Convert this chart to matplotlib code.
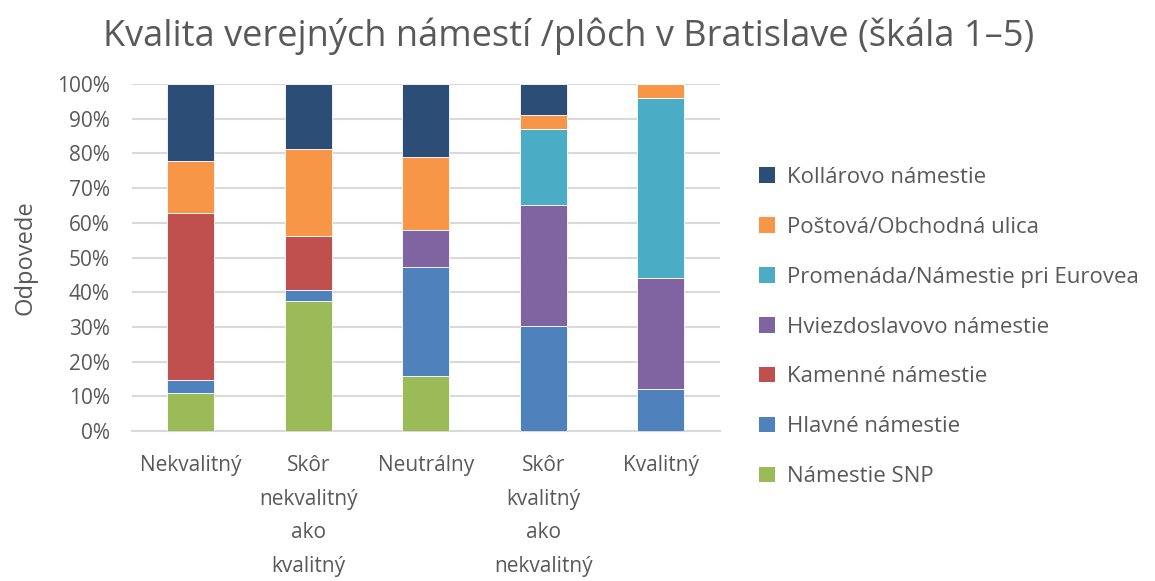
import matplotlib
matplotlib.use("Agg")
import matplotlib.pyplot as plt
import numpy as np
from matplotlib.patches import Patch
from matplotlib.ticker import PercentFormatter

categories = ["Nekvalitný", "Skôr\nnekvalitný\nako\nkvalitný", "Neutrálny",
              "Skôr\nkvalitný\nako\nnekvalitný", "Kvalitný"]

series_names = ["Námestie SNP", "Hlavné námestie", "Kamenné námestie",
                "Hviezdoslavovo námestie", "Promenáda/Námestie pri Eurovea",
                "Poštová/Obchodná ulica", "Kollárovo námestie"]

namestie_snp = [11.1, 37.5, 15.8, 0.0, 0.0]
hlavne = [3.7, 3.1, 31.6, 30.4, 12.0]
kamenne = [48.1, 15.6, 0.0, 0.0, 0.0]
hviezdoslavovo = [0.0, 0.0, 10.5, 34.8, 32.0]
promenada = [0.0, 0.0, 0.0, 21.7, 52.0]
postova = [14.8, 25.0, 21.1, 4.3, 4.0]
kollarovo = [22.2, 18.8, 21.1, 8.7, 0.0]

colors = ["#9bbb59", "#4f81bd", "#c0504d", "#8064a2", "#4bacc6", "#f79646", "#2c4d75"]

values = [namestie_snp, hlavne, kamenne, hviezdoslavovo, promenada, postova, kollarovo]

plt.rcParams['font.family'] = ['Open Sans', 'DejaVu Sans']
txt = "#595959"

fig = plt.figure(figsize=(11.55, 5.81), dpi=100)
ax = fig.add_axes([0.1143, 0.258, 0.623 - 0.1143, 0.8554 - 0.258])

x = np.arange(len(categories))
bottom = np.zeros(len(categories))
for name, vals, c in zip(series_names, values, colors):
    v = np.array(vals)
    ax.bar(x, v, 0.4, bottom=bottom, color=c, edgecolor="white", linewidth=0.6,
           label=name, zorder=3)
    bottom += v

ax.set_ylim(0, 100)
ax.set_xlim(-0.5, len(categories) - 0.5)
ax.set_yticks(np.arange(0, 101, 10))
ax.yaxis.set_major_formatter(PercentFormatter(decimals=0))
ax.grid(axis="y", color="#d9d9d9", linewidth=1.5, zorder=0)
for s in ["top", "right", "left"]:
    ax.spines[s].set_visible(False)
ax.spines["bottom"].set_color("#d9d9d9")
ax.spines["bottom"].set_linewidth(1.5)
ax.tick_params(axis="both", length=0, colors=txt, labelsize=15)
ax.tick_params(axis="y", pad=16)
ax.set_xticks(x)
ax.set_xticklabels(categories, linespacing=1.8, va="top")
ax.tick_params(axis="x", pad=17)
ax.set_ylabel("Odpovede", color=txt, fontsize=17, labelpad=14)

fig.suptitle("Kvalita verejných námestí /plôch v Bratislave (škála 1–5)",
             x=0.492, y=0.97, fontsize=26, color=txt)

handles = [Patch(facecolor=c, edgecolor="none") for c in colors][::-1]
labels = series_names[::-1]
fig.legend(handles, labels, loc="center left", bbox_to_anchor=(0.640, 0.437),
           frameon=False, fontsize=16, labelcolor=txt, labelspacing=1.3,
           handlelength=0.7, handleheight=0.7, handletextpad=0.55)

fig.savefig("out.png", dpi=100)
